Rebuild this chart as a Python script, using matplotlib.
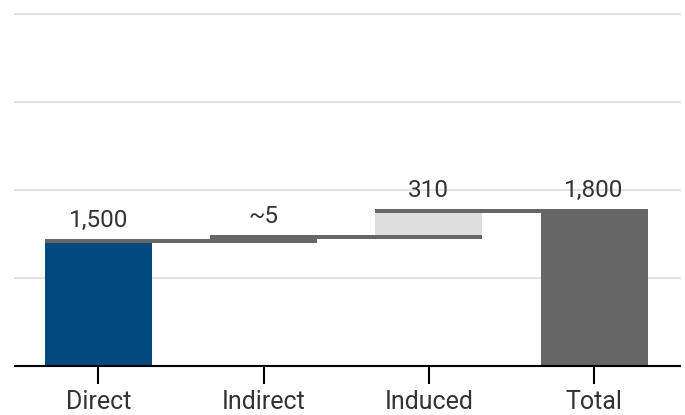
import matplotlib
matplotlib.use("Agg")
import matplotlib.pyplot as plt

# waterfall data (levels in the chart's units)
categories = ["Direct", "Indirect", "Induced", "Total"]
value_labels = ["1,500", "~5", "310", "1,800"]
direct_top = 1445
indirect_top = 1490
induced_top = 1785
cap = 45  # thickness of the dark connector lines

blue = "#004a80"
dark = "#666666"
light = "#dddddd"
txt = "#333333"
w = 0.648

plt.rcParams['font.family'] = ['Roboto', 'DejaVu Sans']

fig = plt.figure(figsize=(6.85, 4.15), dpi=100)
ax = fig.add_axes([15/685, 49/415, 665/685, 352/415])

# bars
ax.bar(0, direct_top - cap, width=w, color=blue, zorder=2)
ax.bar(1, indirect_top - (direct_top - cap), bottom=direct_top - cap, width=w, color=dark, zorder=2)
ax.bar(2, induced_top - cap - indirect_top, bottom=indirect_top, width=w, color=light, zorder=2)
ax.bar(3, induced_top, width=w, color=dark, zorder=2)

# connector lines
h = w / 2
ax.fill_between([0 - h, 1 - h], direct_top - cap, direct_top, color=dark, lw=0, zorder=3)
ax.fill_between([1 + h, 2 + h], indirect_top - cap, indirect_top, color=dark, lw=0, zorder=3)
ax.fill_between([2 - h, 3 + h], induced_top - cap, induced_top, color=dark, lw=0, zorder=3)

tops = [direct_top, indirect_top, induced_top, induced_top]
for i, (t, lab) in enumerate(zip(tops, value_labels)):
    ax.annotate(lab, (i, t), xytext=(0, 5), textcoords="offset points",
                ha="center", va="bottom", fontsize=17.5, color=txt, zorder=4)

ax.set_xlim(-0.505, 3.52)
ax.set_ylim(0, 4000)
ax.set_yticks([1000, 2000, 3000, 4000])
ax.yaxis.grid(True, color="#e2e2e2", lw=1.5, zorder=0)
ax.set_axisbelow(True)
ax.tick_params(axis="y", left=False, labelleft=False)
for s in ["top", "right", "left"]:
    ax.spines[s].set_visible(False)
ax.spines["bottom"].set_linewidth(1.5)
ax.spines["bottom"].set_color("black")
ax.set_xticks(range(len(categories)))
ax.set_xticklabels(categories, fontsize=18, color=txt)
ax.tick_params(axis="x", length=13, width=1.5, color="black", pad=4)
for gl in ax.get_ygridlines():
    gl.set_clip_on(False)

fig.savefig("out.png", dpi=100)
